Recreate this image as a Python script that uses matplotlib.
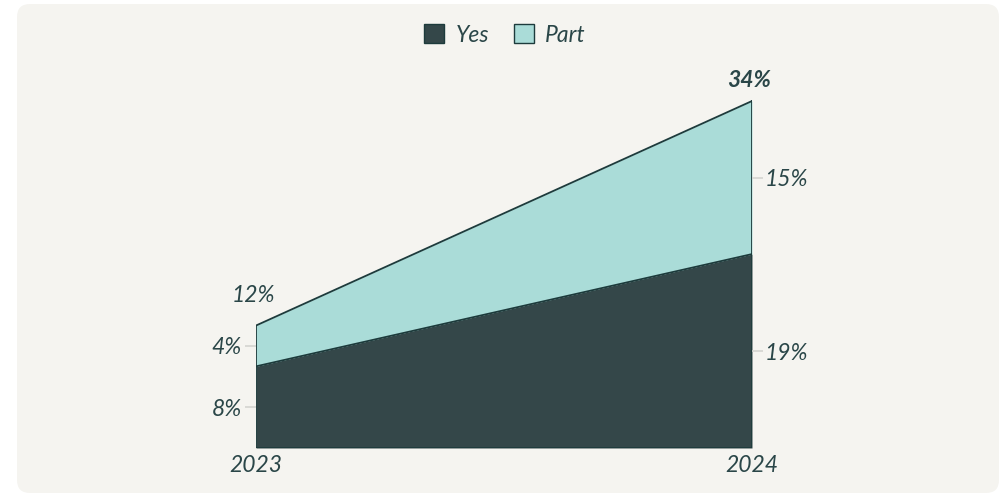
#!/usr/bin/env python3
"""Stacked area of Yes / Part shares, 2023 vs 2024."""

import matplotlib

matplotlib.use("Agg")
import matplotlib.pyplot as plt
from matplotlib.patches import FancyBboxPatch, Patch

YEARS = ["2023", "2024"]
YES = [8, 19]
PART = [4, 15]

PANEL_BG = "#f5f4f0"
YES_COLOR = "#344749"
PART_COLOR = "#aadcd8"
EDGE_COLOR = "#1d3b3c"
TEXT_COLOR = "#2a4648"
TICK_COLOR = "#d4d4d0"
FS = 16.5

plt.rcParams["font.family"] = ["Lato", "DejaVu Sans"]

W, H = 1002, 495
fig = plt.figure(figsize=(W / 100, H / 100), dpi=100)
fig.patch.set_facecolor("white")

# rounded panel behind everything
panel = FancyBboxPatch(
    (17 / W, 2 / H), (982 / W), (489 / H),
    boxstyle="round,pad=0,rounding_size=0.013",
    transform=fig.transFigure, facecolor=PANEL_BG, edgecolor="none",
    mutation_aspect=W / H, zorder=-5,
)
fig.patches.append(panel)

ax = fig.add_axes([256 / W, 1 - 448 / H, 496 / W, 367.4 / H])
ax.set_facecolor("none")
ax.set_zorder(1)

x = [0, 1]
totals = [y + p for y, p in zip(YES, PART)]
ax.fill_between(x, 0, YES, color=YES_COLOR, linewidth=0)
ax.fill_between(x, YES, totals, color=PART_COLOR, linewidth=0)
ax.plot(x, YES, color=EDGE_COLOR, linewidth=1.3)
ax.plot(x, totals, color=EDGE_COLOR, linewidth=1.3)
for i in x:
    ax.plot([i, i], [0, totals[i]], color=EDGE_COLOR, linewidth=1.3)
ax.plot([0, 1], [0, 0], color=EDGE_COLOR, linewidth=1.3)

ax.set_xlim(0, 1)
ax.set_ylim(0, 36)
for spine in ax.spines.values():
    spine.set_visible(False)

# segment labels sit at the middle of each band
ax.set_xticks([])
ax.set_yticks([YES[0] / 2, YES[0] + PART[0] / 2], [f"{YES[0]}%", f"{PART[0]}%"])
ax.tick_params(axis="y", length=8, width=1.2, color=TICK_COLOR, pad=2,
               labelsize=FS, labelcolor=TEXT_COLOR)
for lbl in ax.get_yticklabels():
    lbl.set_style("italic")

ax_r = ax.twinx()
ax_r.set_ylim(0, 36)
ax_r.set_facecolor("none")
for spine in ax_r.spines.values():
    spine.set_visible(False)
ax_r.set_yticks([YES[1] / 2, YES[1] + PART[1] / 2], [f"{YES[1]}%", f"{PART[1]}%"])
ax_r.tick_params(axis="y", length=8, width=1.2, color=TICK_COLOR, pad=1,
                 labelsize=FS, labelcolor=TEXT_COLOR)
for lbl in ax_r.get_yticklabels():
    lbl.set_style("italic")

# totals above each column
ax.annotate(f"{totals[0]}%", (0, totals[0]), xytext=(-2, 14), textcoords="offset points",
            ha="center", va="bottom", fontsize=FS, style="italic", color=TEXT_COLOR)
ax.annotate(f"{totals[1]}%", (1, totals[1]), xytext=(-2, 7), textcoords="offset points",
            ha="center", va="bottom", fontsize=FS, style="italic", weight="bold",
            color=TEXT_COLOR)

# year labels under the columns
for i, year in enumerate(YEARS):
    ax.annotate(year, (i, 0), xytext=(0, -5), textcoords="offset points",
                ha="center", va="top", fontsize=FS, style="italic", color=TEXT_COLOR)

handles = [
    Patch(facecolor=YES_COLOR, edgecolor=EDGE_COLOR, label="Yes"),
    Patch(facecolor=PART_COLOR, edgecolor=EDGE_COLOR, label="Part"),
]
leg = fig.legend(handles=handles, loc="center", bbox_to_anchor=(505 / W, 1 - 35 / H),
                 ncol=2, frameon=False, fontsize=FS, handlelength=0.85, handleheight=0.85,
                 handletextpad=0.5, columnspacing=1.1)
for t in leg.get_texts():
    t.set_style("italic")
    t.set_color(TEXT_COLOR)

fig.savefig("out.png", dpi=100, facecolor=fig.get_facecolor())
